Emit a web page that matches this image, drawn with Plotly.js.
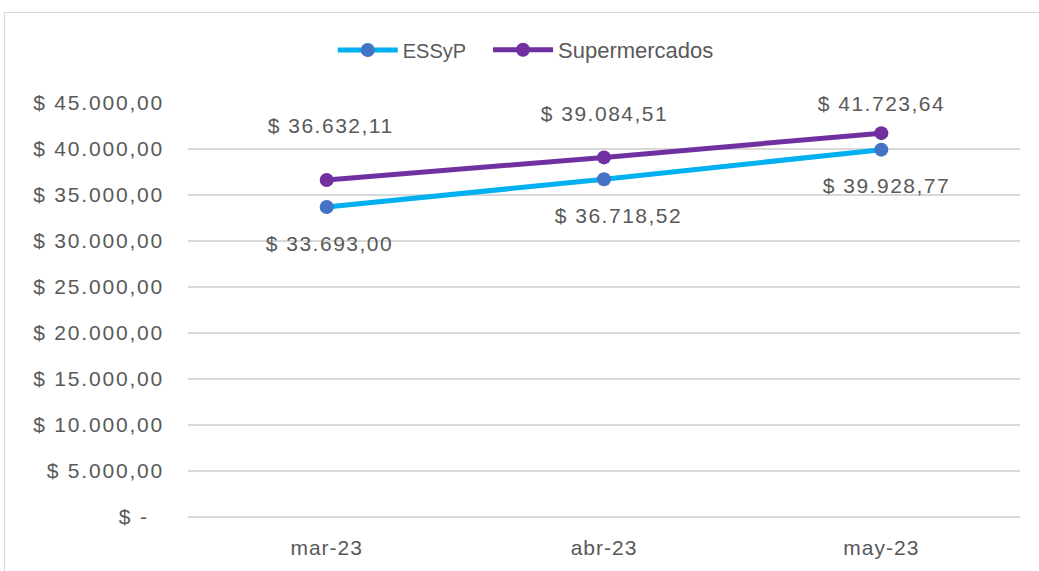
<!DOCTYPE html>
<html>
<head>
<meta charset="utf-8">
<script src="https://cdn.plot.ly/plotly-3.0.1.min.js"></script>
<style>
  html, body { margin: 0; padding: 0; background: #ffffff; }
  #frame { position: absolute; left: 4px; top: 12px; width: 1100px; height: 700px; border: 1.5px solid #d9d9d9; box-sizing: border-box; }
  #chart { position: absolute; left: 0; top: 0; width: 1039px; height: 571px; }
  #chart .ytick text { letter-spacing: 1.8px; }
  #chart .xtick text { letter-spacing: 1px; }
  #chart .annotation-text { letter-spacing: 1.5px; }
</style>
</head>
<body>
<div id="frame"></div>
<div id="chart"></div>
<script>
const categories = ["mar-23", "abr-23", "may-23"];
const essypValues = [33693.00, 36718.52, 39928.77];
const superValues = [36632.11, 39084.51, 41723.64];
const seriesNames = ["ESSyP", "Supermercados"];
const tickValues = [0, 5000, 10000, 15000, 20000, 25000, 30000, 35000, 40000, 45000];

function fmt(v) {
  if (v === 0) return "$ -\u00a0\u00a0";
  const parts = v.toFixed(2).split(".");
  const intPart = parts[0].replace(/\B(?=(\d{3})+(?!\d))/g, ".");
  return "$ " + intPart + "," + parts[1];
}
const tickLabels = tickValues.map(fmt);

const textFont = { family: "Liberation Sans, Arial, sans-serif", size: 21, color: "#595959" };
const legendFont1 = { family: "Liberation Sans, Arial, sans-serif", size: 20, color: "#595959" };
const legendFont2 = { family: "Liberation Sans, Arial, sans-serif", size: 22, color: "#595959" };

const traces = [
  {
    x: categories, y: essypValues, name: seriesNames[0], type: "scatter", mode: "lines+markers",
    line: { color: "#00B0F0", width: 5 },
    marker: { color: "#4472C4", size: 14 },
    hoverinfo: "none", legend: "legend"
  },
  {
    x: categories, y: superValues, name: seriesNames[1], type: "scatter", mode: "lines+markers",
    line: { color: "#7030A0", width: 5 },
    marker: { color: "#7030A0", size: 14 },
    hoverinfo: "none", legend: "legend2"
  }
];

const essypShift = [[3, -36], [14, -36], [5, -36]];
const superShift = [[4, 54], [0, 44], [0, 30]];
const annotations = [];
categories.forEach((c, i) => {
  annotations.push({ x: c, y: essypValues[i], xref: "x", yref: "y", text: fmt(essypValues[i]),
    showarrow: false, xshift: essypShift[i][0], yshift: essypShift[i][1], font: textFont });
  annotations.push({ x: c, y: superValues[i], xref: "x", yref: "y", text: fmt(superValues[i]),
    showarrow: false, xshift: superShift[i][0], yshift: superShift[i][1], font: textFont });
});

const layout = {
  width: 1039, height: 571,
  margin: { l: 188, r: 19, t: 103, b: 54 },
  paper_bgcolor: "rgba(0,0,0,0)",
  plot_bgcolor: "rgba(0,0,0,0)",
  showlegend: true,
  legend: {
    orientation: "h", x: 0.174, xanchor: "left", y: 1.128, yanchor: "middle",
    font: legendFont1, itemwidth: 60, bgcolor: "rgba(0,0,0,0)"
  },
  legend2: {
    orientation: "h", x: 0.3606, xanchor: "left", y: 1.128, yanchor: "middle",
    font: legendFont2, itemwidth: 60, bgcolor: "rgba(0,0,0,0)"
  },
  xaxis: {
    type: "category", range: [-0.5, 2.5], showgrid: false, showline: false, zeroline: false,
    ticks: "", tickfont: textFont, ticklabelstandoff: 16
  },
  yaxis: {
    range: [0, 45000], tickvals: tickValues, ticktext: tickLabels,
    showgrid: true, gridcolor: "#d9d9d9", gridwidth: 1.5,
    zeroline: true, zerolinecolor: "#d9d9d9", zerolinewidth: 1.5, showline: false,
    ticks: "", tickfont: textFont, ticklabelstandoff: 23
  },
  annotations: annotations
};

Plotly.newPlot("chart", traces, layout, { staticPlot: true, displayModeBar: false });
</script>
</body>
</html>
